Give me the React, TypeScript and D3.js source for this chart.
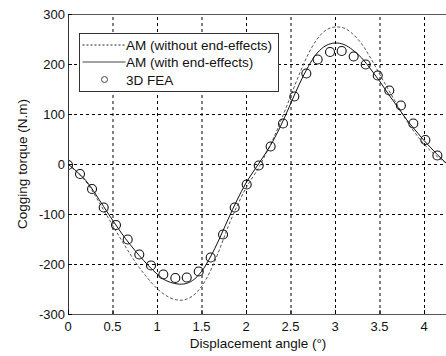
import { useRef, useEffect } from 'react';
import * as d3 from 'd3';

const WIDTH = 446;
const HEIGHT = 356;
const MARGIN = { left: 68, top: 14, bottom: 42 };
const X_MAX = 4.3;

const xTicks = [0, 0.5, 1, 1.5, 2, 2.5, 3, 3.5, 4];
const yTicks = [-300, -200, -100, 0, 100, 200, 300];

// AM (without end-effects)
const amNoEndX = [0, 0.2, 0.4, 0.6, 0.8, 1.0, 1.1, 1.2, 1.3, 1.4, 1.5, 1.6, 1.7, 1.8, 1.9, 2.0, 2.14, 2.2, 2.3, 2.4, 2.5, 2.6, 2.7, 2.8, 2.9, 3.0, 3.1, 3.2, 3.3, 3.4, 3.5, 3.6, 3.7, 3.8, 3.9, 4.0, 4.1, 4.2, 4.3];
const amNoEndY = [0, -35, -92, -152, -207, -249, -263, -271, -272, -264, -245, -214, -172, -125, -84, -48, -8, 12, 48, 90, 135, 180, 220, 250, 268, 274, 272, 260, 240, 212, 180, 149, 118, 88, 62, 40, 22, 8, -4];

// AM (with end-effects)
const amEndX = [0, 0.2, 0.4, 0.6, 0.8, 1.0, 1.1, 1.2, 1.3, 1.4, 1.5, 1.6, 1.7, 1.8, 1.9, 2.0, 2.14, 2.2, 2.3, 2.4, 2.5, 2.6, 2.7, 2.8, 2.9, 3.0, 3.1, 3.2, 3.3, 3.4, 3.5, 3.6, 3.7, 3.8, 3.9, 4.0, 4.1, 4.2, 4.3];
const amEndY = [0, -33, -85, -138, -183, -220, -233, -239, -240, -233, -215, -186, -150, -110, -72, -38, 0, 16, 45, 80, 120, 160, 195, 222, 237, 242, 239, 228, 212, 190, 166, 140, 115, 90, 68, 47, 28, 10, -6];

// 3D FEA
const feaX = [0, 0.135, 0.27, 0.401, 0.539, 0.671, 0.801, 0.933, 1.071, 1.206, 1.334, 1.469, 1.603, 1.742, 1.873, 2.008, 2.143, 2.277, 2.416, 2.543, 2.678, 2.805, 2.944, 3.075, 3.21, 3.345, 3.48, 3.61, 3.74, 3.88, 4.015, 4.15];
const feaY = [-2, -20, -50, -87, -122, -151, -181, -203, -221, -228, -227, -215, -187, -141, -87, -41, -3, 35, 81, 135, 181, 209, 224, 226, 215, 199, 177, 147, 117, 81, 48, 17];

const legendLabels = ['AM (without end-effects)', 'AM (with end-effects)', '3D FEA'];

const FONT = 'Liberation Sans, Arial, sans-serif';

export default function App() {
  const svgRef = useRef<SVGSVGElement>(null);

  useEffect(() => {
    const svg = d3.select(svgRef.current);
    svg.selectAll('*').remove();

    const x = d3
      .scaleLinear()
      .domain([0, X_MAX])
      .range([MARGIN.left, MARGIN.left + X_MAX * 89]);
    const y = d3
      .scaleLinear()
      .domain([-300, 300])
      .range([HEIGHT - MARGIN.bottom, MARGIN.top]);

    svg.append('rect').attr('width', WIDTH).attr('height', HEIGHT).attr('fill', '#fff');

    // Grid
    xTicks.slice(1).forEach((t) => {
      svg
        .append('line')
        .attr('x1', x(t) + 0.5)
        .attr('x2', x(t) + 0.5)
        .attr('y1', y(-300))
        .attr('y2', y(300))
        .attr('stroke', '#000')
        .attr('stroke-width', 1)
        .attr('stroke-dasharray', '3,3');
    });
    yTicks.slice(1, -1).forEach((t) => {
      svg
        .append('line')
        .attr('x1', x(0))
        .attr('x2', WIDTH)
        .attr('y1', y(t) + 0.5)
        .attr('y2', y(t) + 0.5)
        .attr('stroke', '#000')
        .attr('stroke-width', 1)
        .attr('stroke-dasharray', '3,3');
    });

    // Curves
    const line = d3
      .line<[number, number]>()
      .x((d) => x(d[0]))
      .y((d) => y(d[1]))
      .curve(d3.curveCatmullRom.alpha(0.5));

    svg
      .append('defs')
      .append('clipPath')
      .attr('id', 'plot-clip')
      .append('rect')
      .attr('x', x(0))
      .attr('y', y(300))
      .attr('width', WIDTH - x(0))
      .attr('height', y(-300) - y(300));

    const g = svg.append('g').attr('clip-path', 'url(#plot-clip)');

    g.append('path')
      .attr('d', line(amNoEndX.map((v, i) => [v, amNoEndY[i]]) as [number, number][]))
      .attr('fill', 'none')
      .attr('stroke', '#555')
      .attr('stroke-width', 1)
      .attr('stroke-dasharray', '3,2');

    g.append('path')
      .attr('d', line(amEndX.map((v, i) => [v, amEndY[i]]) as [number, number][]))
      .attr('fill', 'none')
      .attr('stroke', '#111')
      .attr('stroke-width', 1);

    feaX.forEach((v, i) => {
      g.append('circle')
        .attr('cx', x(v))
        .attr('cy', y(feaY[i]))
        .attr('r', 4.5)
        .attr('fill', 'none')
        .attr('stroke', '#111')
        .attr('stroke-width', 1.1);
    });

    // Axes frame
    svg
      .append('line')
      .attr('x1', x(0) + 0.5)
      .attr('x2', x(0) + 0.5)
      .attr('y1', y(300))
      .attr('y2', y(-300))
      .attr('stroke', '#333');
    svg
      .append('line')
      .attr('x1', x(0))
      .attr('x2', WIDTH)
      .attr('y1', y(300) + 0.5)
      .attr('y2', y(300) + 0.5)
      .attr('stroke', '#555');
    svg
      .append('line')
      .attr('x1', x(0))
      .attr('x2', WIDTH)
      .attr('y1', y(-300) + 0.5)
      .attr('y2', y(-300) + 0.5)
      .attr('stroke', '#555');

    // Tick marks and labels
    xTicks.forEach((t) => {
      svg
        .append('line')
        .attr('x1', x(t) + 0.5)
        .attr('x2', x(t) + 0.5)
        .attr('y1', y(-300))
        .attr('y2', y(-300) - 4)
        .attr('stroke', '#000');
      svg
        .append('text')
        .attr('x', x(t))
        .attr('y', y(-300) + 17)
        .attr('text-anchor', 'middle')
        .attr('font-family', FONT)
        .attr('font-size', 13)
        .attr('fill', '#111')
        .text(String(t));
    });
    yTicks.forEach((t) => {
      svg
        .append('line')
        .attr('x1', x(0))
        .attr('x2', x(0) + 4)
        .attr('y1', y(t) + 0.5)
        .attr('y2', y(t) + 0.5)
        .attr('stroke', '#000');
      svg
        .append('text')
        .attr('x', x(0) - 3)
        .attr('y', y(t) + 5)
        .attr('text-anchor', 'end')
        .attr('font-family', FONT)
        .attr('font-size', 13)
        .attr('fill', '#111')
        .text(String(t));
    });

    // Axis titles
    svg
      .append('text')
      .attr('x', 258)
      .attr('y', 348)
      .attr('text-anchor', 'middle')
      .attr('font-family', FONT)
      .attr('font-size', 13.5)
      .attr('fill', '#111')
      .text('Displacement angle (°)');
    svg
      .append('text')
      .attr('transform', `translate(27,${y(0)}) rotate(-90)`)
      .attr('text-anchor', 'middle')
      .attr('font-family', FONT)
      .attr('font-size', 13.5)
      .attr('fill', '#111')
      .text('Cogging torque (N.m)');

    // Legend
    const lg = svg.append('g').attr('transform', 'translate(79.5,33.5)');
    lg.append('rect')
      .attr('width', 199)
      .attr('height', 58)
      .attr('fill', '#fff')
      .attr('stroke', '#333');
    const rowY = [11.5, 28.5, 46];
    lg.append('line')
      .attr('x1', 3)
      .attr('x2', 46)
      .attr('y1', rowY[0])
      .attr('y2', rowY[0])
      .attr('stroke', '#222')
      .attr('stroke-dasharray', '2,2');
    lg.append('line')
      .attr('x1', 3)
      .attr('x2', 46)
      .attr('y1', rowY[1])
      .attr('y2', rowY[1])
      .attr('stroke', '#444');
    lg.append('circle')
      .attr('cx', 25)
      .attr('cy', rowY[2])
      .attr('r', 3)
      .attr('fill', 'none')
      .attr('stroke', '#444');
    legendLabels.forEach((label, i) => {
      lg.append('text')
        .attr('x', 46.5)
        .attr('y', rowY[i] + 5)
        .attr('font-family', FONT)
        .attr('font-size', 13.5)
        .attr('fill', '#111')
        .text(label);
    });
  }, []);

  return (
    <svg
      ref={svgRef}
      width={WIDTH}
      height={HEIGHT}
      style={{ position: 'absolute', left: 0, top: 0 }}
    />
  );
}
